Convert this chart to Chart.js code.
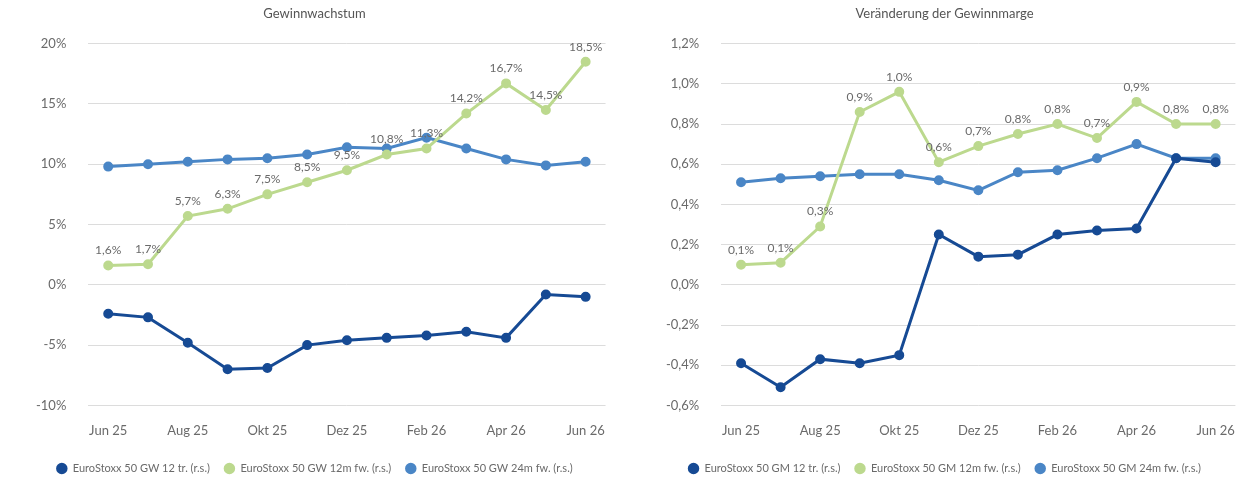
<!DOCTYPE html>
<html>
<head>
<meta charset="utf-8">
<script src="https://cdn.jsdelivr.net/npm/chart.js@4"></script>
<style>
  body { margin: 0; background: #fff; }
  .box { position: absolute; top: 0; height: 486px; }
</style>
</head>
<body>
<div class="box" style="left:0;width:615px"><canvas id="left"></canvas></div>
<div class="box" style="left:630px;width:615px"><canvas id="right"></canvas></div>
<script>
const months = ['Jun 25','Jul 25','Aug 25','Sep 25','Okt 25','Nov 25','Dez 25','Jan 26','Feb 26','Mrz 26','Apr 26','Mai 26','Jun 26'];

// Gewinnwachstum (%)
const gw12tr = [-2.4, -2.7, -4.8, -7.0, -6.9, -5.0, -4.6, -4.4, -4.2, -3.9, -4.4, -0.8, -1.0];
const gw12fw = [1.6, 1.7, 5.7, 6.3, 7.5, 8.5, 9.5, 10.8, 11.3, 14.2, 16.7, 14.5, 18.5];
const gw24fw = [9.8, 10.0, 10.2, 10.4, 10.5, 10.8, 11.4, 11.3, 12.2, 11.3, 10.4, 9.9, 10.2];

// Veränderung der Gewinnmarge (%)
const gm12tr = [-0.39, -0.51, -0.37, -0.39, -0.35, 0.25, 0.14, 0.15, 0.25, 0.27, 0.28, 0.63, 0.61];
const gm12fw = [0.10, 0.11, 0.29, 0.86, 0.96, 0.61, 0.69, 0.75, 0.80, 0.73, 0.91, 0.80, 0.80];
const gm24fw = [0.51, 0.53, 0.54, 0.55, 0.55, 0.52, 0.47, 0.56, 0.57, 0.63, 0.70, 0.63, 0.63];

const dark = '#164a94', green = '#bcd98e', blue = '#4a86c6';
Chart.defaults.font.family = 'Lato, sans-serif';
Chart.defaults.color = '#6a6a6a';
Chart.defaults.animation = false;

// value labels above the green series
const labelPlugin = {
  id: 'labels',
  afterDatasetsDraw(chart) {
    const ctx = chart.ctx;
    const meta = chart.getDatasetMeta(1);
    const data = chart.data.datasets[1].data;
    ctx.save();
    ctx.font = '12px Lato, sans-serif';
    ctx.fillStyle = '#6a6a6a';
    ctx.textAlign = 'center';
    ctx.textBaseline = 'bottom';
    meta.data.forEach((pt, i) => {
      ctx.fillText(data[i].toFixed(1).replace('.', ',') + '%', pt.x, pt.y - 9);
    });
    ctx.restore();
  }
};

function makeChart(id, title, prefix, series, min, max, step, digits) {
  const names = ['12 tr. (r.s.)', '12m fw. (r.s.)', '24m fw. (r.s.)'];
  const colors = [dark, green, blue];
  new Chart(document.getElementById(id), {
    type: 'line',
    data: {
      labels: months,
      datasets: series.map((d, i) => ({
        label: prefix + ' ' + names[i],
        data: d,
        borderColor: colors[i],
        backgroundColor: colors[i],
        borderWidth: 3,
        pointRadius: 3.5,
        pointHoverRadius: 3.5,
        tension: 0
      }))
    },
    options: {
      responsive: true,
      maintainAspectRatio: false,
      layout: { padding: { left: 14, right: 0, top: 0, bottom: 2 } },
      scales: {
        x: {
          offset: true,
          grid: { display: false },
          border: { display: false },
          ticks: {
            autoSkip: false, maxRotation: 0, font: { size: 13 }, padding: 10,
            callback: (v, i) => i % 2 === 0 ? months[i] : ''
          }
        },
        y: {
          min: min, max: max,
          grid: { color: '#dcdcdc', drawTicks: false },
          border: { display: false },
          ticks: {
            stepSize: step, padding: 22, font: { size: 13 },
            callback: v => v.toFixed(digits).replace('.', ',') + '%'
          }
        }
      },
      plugins: {
        title: { display: true, text: title, font: { size: 13, weight: 'normal' }, color: '#555', padding: { top: 6, bottom: 22 } },
        legend: {
          position: 'bottom',
          labels: { usePointStyle: true, pointStyle: 'circle', boxHeight: 6, font: { size: 11 }, padding: 14 }
        },
        tooltip: { enabled: false }
      }
    },
    plugins: [labelPlugin]
  });
}

makeChart('left', 'Gewinnwachstum', 'EuroStoxx 50 GW', [gw12tr, gw12fw, gw24fw], -10, 20, 5, 0);
makeChart('right', 'Veränderung der Gewinnmarge', 'EuroStoxx 50 GM', [gm12tr, gm12fw, gm24fw], -0.6, 1.2, 0.2, 1);
</script>
</body>
</html>
